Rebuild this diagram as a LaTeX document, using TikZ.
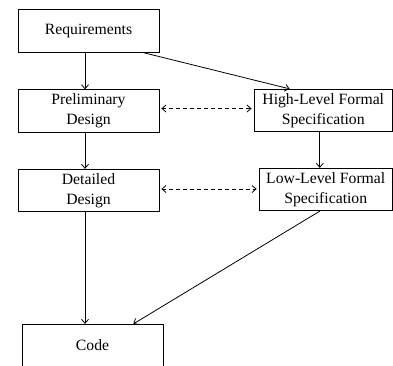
\documentclass[tikz,border=0pt]{standalone}
\usepackage{fontspec}
\setmainfont{Liberation Serif}
\usetikzlibrary{arrows.meta}

\begin{document}
\begin{tikzpicture}[
  x=1pt,y=-1pt,
  box/.style={draw,line width=0.8pt,align=center,inner sep=0pt,
    minimum width=141pt,minimum height=42.5pt,
    font=\fontsize{15.7}{20}\selectfont},
  arrow/.style={-{Straight Barb[length=4pt,width=7pt]},line width=0.8pt},
  link/.style={{Straight Barb[length=4pt,width=7pt]}-{Straight Barb[length=4pt,width=7pt]},
    line width=0.8pt,dash pattern=on 4pt off 3pt,shorten <=2pt,shorten >=2pt}
]
\clip (0,0) rectangle (393,365);
\useasboundingbox (0,0) rectangle (393,365);
\node[box] (req) at (88.5,31) {Requirements};
\node[box] (prelim) at (88.5,111) {Preliminary\\Design};
\node[box] (detail) at (88.5,190.5) {Detailed\\Design};
\node[box,minimum width=138.5pt] (hlspec) at (323.25,110.5) {High-Level Formal\\Specification};
\node[box,minimum width=133.5pt] (llspec) at (325.75,189.5) {Low-Level Formal\\Specification};
\node[box] (code) at (92.5,345.5) {Code};
\draw[arrow] ([xshift=-3.5pt]req.south) -- ([xshift=-3.5pt]prelim.north);
\draw[arrow] ([xshift=-16pt]req.south east) -- ([xshift=36pt]hlspec.north west);
\draw[arrow] ([xshift=-3.5pt]prelim.south) -- ([xshift=-3.5pt]detail.north);
\draw[arrow] ([xshift=-3.5pt]hlspec.south) -- ([xshift=-3.5pt]hlspec.south |- llspec.north);
\draw[arrow] ([xshift=-3.5pt]detail.south) -- ([xshift=-3.5pt]detail.south |- code.north);
\draw[arrow] ([xshift=-6pt]llspec.south) -- ([xshift=-30pt]code.north east);
\draw[link] ([yshift=2.5pt]prelim.east) -- ([yshift=2.5pt]prelim.east -| hlspec.west);
\draw[link] ([yshift=1.5pt]detail.east) -- ([yshift=1.5pt]detail.east -| llspec.west);
\end{tikzpicture}
\end{document}
